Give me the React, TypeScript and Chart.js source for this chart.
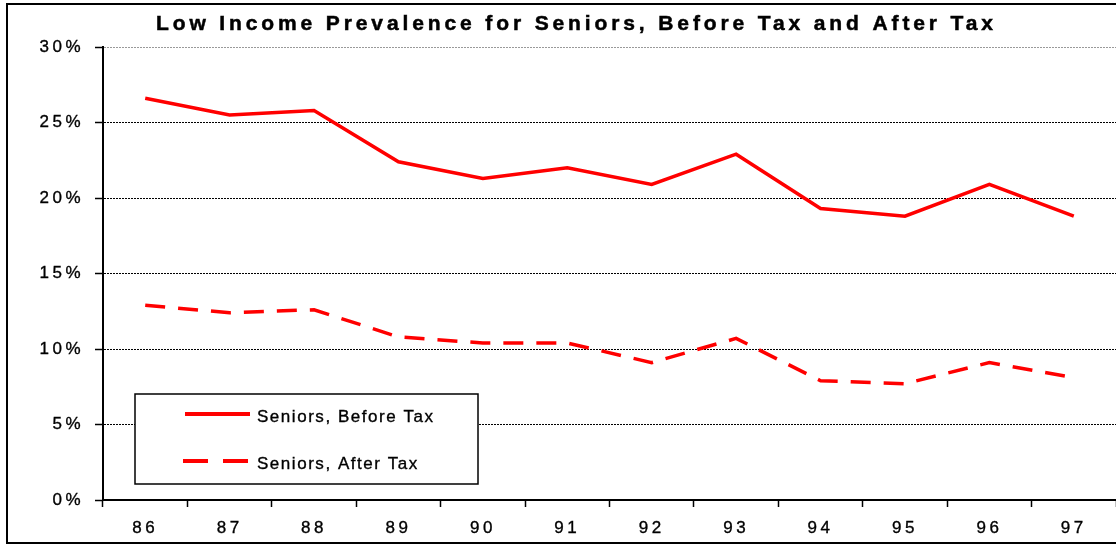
import React, { useEffect, useRef } from "react";
import { Chart, registerables } from "chart.js";

Chart.register(...registerables);

const TITLE = "Low Income Prevalence for Seniors, Before Tax and After Tax";
const YEARS = ["86", "87", "88", "89", "90", "91", "92", "93", "94", "95", "96", "97"];
const BEFORE_TAX = [26.6, 25.5, 25.8, 22.4, 21.3, 22.0, 20.9, 22.9, 19.3, 18.8, 20.9, 18.8];
const AFTER_TAX = [12.9, 12.4, 12.6, 10.8, 10.4, 10.4, 9.1, 10.7, 7.9, 7.7, 9.1, 8.1];
const SERIES_LABELS = ["Seniors, Before Tax", "Seniors, After Tax"];
const Y_MIN = 0;
const Y_MAX = 30;
const Y_STEP = 5;

const FONT = '"Liberation Sans", Arial, sans-serif';
const RED = "#ff0000";

const decorPlugin = {
  id: "decor",
  beforeDraw(chart: any) {
    (chart.ctx as any).letterSpacing = "3.5px";
  },
  afterDraw(chart: any) {
    const ctx = chart.ctx as any;
    ctx.save();
    ctx.letterSpacing = "0px";

    // outer frame
    ctx.strokeStyle = "#000";
    ctx.lineWidth = 2;
    ctx.strokeRect(7, 4, 1200, 539);

    // title
    ctx.font = `bold 21px ${FONT}`;
    ctx.fillStyle = "#000";
    ctx.strokeStyle = "#000";
    ctx.textAlign = "left";
    ctx.textBaseline = "alphabetic";
    const titleTarget = 837;
    const w0 = ctx.measureText(TITLE).width;
    ctx.letterSpacing = `${(titleTarget - w0) / (TITLE.length - 1)}px`;
    ctx.fillText(TITLE, 156, 29.5);
    ctx.lineWidth = 0.5;
    ctx.strokeText(TITLE, 156, 29.5);

    // legend box
    ctx.letterSpacing = "0px";
    ctx.fillStyle = "#fff";
    ctx.fillRect(135, 394, 343, 90);
    ctx.strokeStyle = "#000";
    ctx.lineWidth = 1.5;
    ctx.strokeRect(135, 394, 343, 90);

    const ds = chart.data.datasets;
    const rows = [414, 461];
    ctx.font = `17px ${FONT}`;
    const lw0 = ctx.measureText(ds[0].label).width;
    const legLs = (176 - lw0) / (ds[0].label.length - 1);
    ds.forEach((d: any, i: number) => {
      const y = rows[i];
      ctx.save();
      ctx.strokeStyle = d.borderColor;
      ctx.lineWidth = 4;
      ctx.setLineDash(d.borderDash ? [25, 15] : []);
      ctx.beginPath();
      ctx.moveTo(i === 0 ? 185 : 183, y);
      ctx.lineTo(i === 0 ? 250 : 248, y);
      ctx.stroke();
      ctx.restore();
      ctx.fillStyle = "#000";
      ctx.strokeStyle = "#000";
      ctx.lineWidth = 0.35;
      ctx.letterSpacing = `${legLs}px`;
      ctx.fillText(d.label, 257, y + 7.5);
      ctx.strokeText(d.label, 257, y + 7.5);
    });
    ctx.restore();
    ctx.letterSpacing = "0px";
  },
};

export default function App() {
  const ref = useRef<HTMLCanvasElement | null>(null);

  useEffect(() => {
    document.body.style.margin = "0";
    const canvas = ref.current;
    if (!canvas) return;
    const chart = new Chart(canvas, {
      type: "line",
      data: {
        labels: YEARS,
        datasets: [
          {
            label: SERIES_LABELS[0],
            data: BEFORE_TAX,
            borderColor: RED,
            backgroundColor: RED,
            borderWidth: 3.5,
            pointRadius: 0,
            tension: 0,
            fill: false,
          },
          {
            label: SERIES_LABELS[1],
            data: AFTER_TAX,
            borderColor: RED,
            backgroundColor: RED,
            borderWidth: 3.5,
            borderDash: [20, 13],
            pointRadius: 0,
            tension: 0,
            fill: false,
          },
        ],
      },
      options: {
        responsive: false,
        animation: false,
        devicePixelRatio: 1,
        layout: { padding: { top: 47, left: 0, right: 0, bottom: 0 } },
        plugins: {
          legend: { display: false },
          title: { display: false },
          tooltip: { enabled: false },
        },
        scales: {
          x: {
            type: "category",
            offset: true,
            ticks: {
              color: "#000",
              font: { family: FONT, size: 17 },
              padding: 11,
              maxRotation: 0,
              autoSkip: false,
              textStrokeColor: "#000",
              textStrokeWidth: 0.35,
            },
            grid: {
              display: true,
              drawOnChartArea: false,
              drawTicks: true,
              tickLength: 7,
              tickColor: "#000",
              tickWidth: 1.5,
              offset: true,
            },
            border: { display: true, color: "#000", width: 2 },
            afterFit: (s: any) => {
              s.height = 44;
            },
          },
          y: {
            min: Y_MIN,
            max: Y_MAX,
            ticks: {
              stepSize: Y_STEP,
              color: "#000",
              font: { family: FONT, size: 17 },
              padding: 11,
              textStrokeColor: "#000",
              textStrokeWidth: 0.35,
              callback: (v: any) => `${v}%`,
            },
            grid: {
              display: true,
              color: (c: any) => (c.tick && c.tick.value === Y_MAX ? "#999" : "#000"),
              lineWidth: 1,
              tickLength: 8,
              tickColor: "#000",
              tickWidth: 1.5,
              tickBorderDash: [],
            },
            border: { display: true, color: "#000", width: 2, dash: [2, 1] },
            afterFit: (s: any) => {
              s.width = 103;
            },
          },
        },
      },
      plugins: [decorPlugin],
    });
    return () => chart.destroy();
  }, []);

  return (
    <div style={{ position: "absolute", left: 0, top: 0, width: 1116, height: 544 }}>
      <canvas ref={ref} width={1116} height={544} style={{ display: "block" }} />
    </div>
  );
}
